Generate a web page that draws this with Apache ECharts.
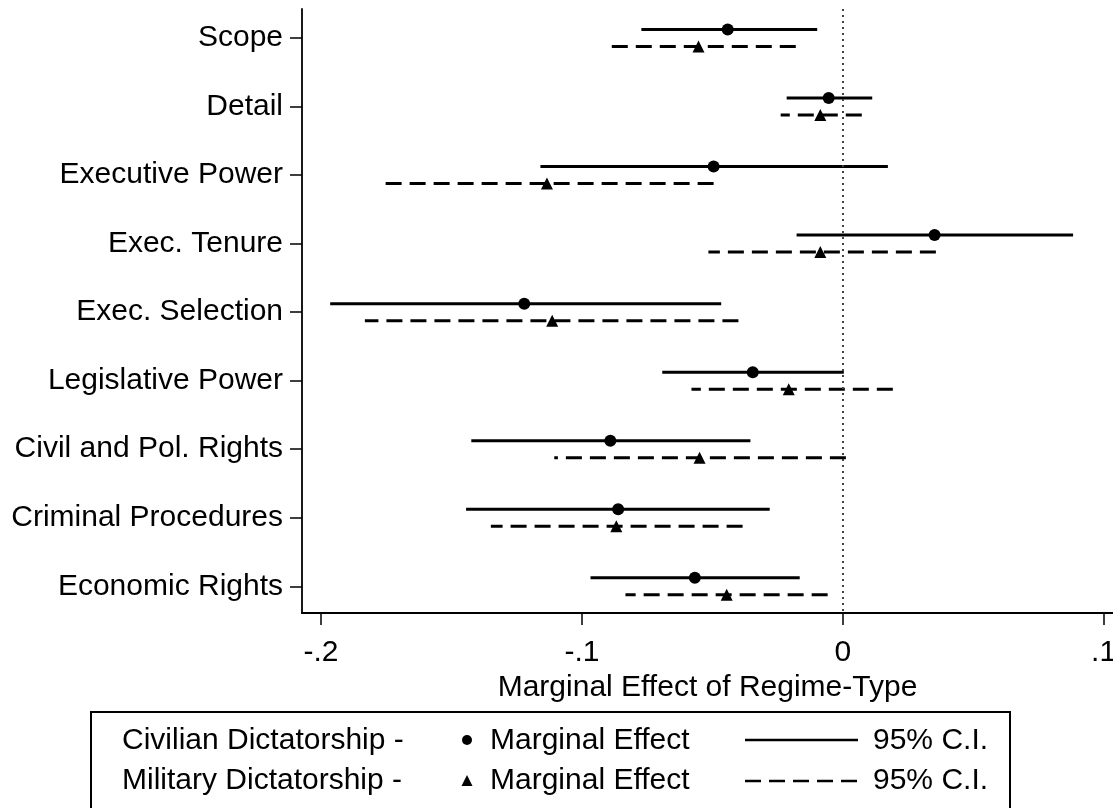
<!DOCTYPE html>
<html>
<head>
<meta charset="utf-8">
<script src="https://cdn.jsdelivr.net/npm/echarts@6/dist/echarts.min.js"></script>
<style>
  html, body { margin: 0; padding: 0; background: #fff; }
  #main { width: 1113px; height: 808px; }
</style>
</head>
<body>
<div id="main"></div>
<script>
// categories, top to bottom
const categories = ['Scope', 'Detail', 'Executive Power', 'Exec. Tenure', 'Exec. Selection',
  'Legislative Power', 'Civil and Pol. Rights', 'Criminal Procedures', 'Economic Rights'];

// civilian dictatorship: marginal effect and 95% C.I.
const civEst = [-0.0441, -0.0054, -0.0495, 0.0352, -0.1221, -0.0345, -0.0891, -0.0861, -0.0567];
const civLo  = [-0.0772, -0.0215, -0.1159, -0.0177, -0.1965, -0.0692, -0.1424, -0.1444, -0.0967];
const civHi  = [-0.0098, 0.0113, 0.0173, 0.0883, -0.0466, 0.0004, -0.0354, -0.0280, -0.0165];

// military dictatorship
const milEst = [-0.0553, -0.0086, -0.1134, -0.0086, -0.1114, -0.0207, -0.0549, -0.0868, -0.0445];
const milLo  = [-0.0915, -0.0238, -0.1770, -0.0515, -0.1832, -0.0580, -0.1106, -0.1349, -0.0833];
const milHi  = [-0.0180, 0.0073, -0.0495, 0.0357, -0.0400, 0.0192, 0.0012, -0.0384, -0.0058];

const xTickVals = [-0.2, -0.1, 0, 0.1];
const xTickLabels = ['-.2', '-.1', '0', '.1'];

const FONT = '"Liberation Sans", Arial, sans-serif';
const OFF = 0.124; // half gap between the two rows of a category

let myChart = echarts.init(document.getElementById('main'));

function ciData(lo, hi, off) {
  return lo.map((v, i) => [v, hi[i], i + off]);
}
function ptData(est, off) {
  return est.map((v, i) => [v, i + off]);
}
function ciRender(dashed) {
  return function (params, api) {
    // draw from right to left so the dash pattern is cut at the left end
    let a = api.coord([api.value(1), api.value(2)]);
    let b = api.coord([api.value(0), api.value(2)]);
    return {
      type: 'line',
      shape: { x1: a[0], y1: a[1], x2: b[0], y2: b[1] },
      style: { stroke: '#000', lineWidth: 3, lineDash: dashed ? [16, 8] : null }
    };
  };
}

let option = {
  animation: false,
  backgroundColor: '#fff',
  grid: { left: 302, right: 0, top: 9, bottom: 195, outerBoundsMode: 'none', containLabel: false },
  xAxis: {
    type: 'value',
    min: -0.2073,
    max: 0.1036,
    splitLine: { show: false },
    axisLine: { onZero: false, lineStyle: { color: '#000', width: 1.8 } },
    axisTick: { show: true, length: 12, customValues: xTickVals, lineStyle: { color: '#000', width: 1.5 } },
    axisLabel: {
      customValues: xTickVals,
      margin: 25,
      color: '#000',
      fontFamily: FONT,
      fontSize: 30,
      formatter: function (v) {
        let i = xTickVals.findIndex(t => Math.abs(t - v) < 1e-9);
        return i >= 0 ? xTickLabels[i] : '';
      }
    },
    name: 'Marginal Effect of Regime-Type',
    nameLocation: 'middle',
    nameGap: 49,
    nameTextStyle: { color: '#000', fontFamily: FONT, fontSize: 30 }
  },
  yAxis: {
    type: 'value',
    inverse: true,
    min: -0.423,
    max: 8.39,
    splitLine: { show: false },
    axisLine: { show: true, onZero: false, lineStyle: { color: '#000', width: 1.8 } },
    axisTick: { show: true, length: 12, customValues: categories.map((c, i) => i), lineStyle: { color: '#000', width: 1.5 } },
    axisLabel: {
      customValues: categories.map((c, i) => i),
      margin: 19,
      color: '#000',
      fontFamily: FONT,
      fontSize: 30,
      formatter: function (v) { return categories[Math.round(v)]; }
    }
  },
  series: [
    {
      type: 'custom',
      name: 'civ CI',
      renderItem: ciRender(false),
      data: ciData(civLo, civHi, -OFF),
      encode: { x: [0, 1], y: 2 },
      silent: true,
      markLine: {
        silent: true,
        symbol: 'none',
        label: { show: false },
        lineStyle: { color: '#444', width: 2, type: [2, 4] },
        data: [{ xAxis: 0 }]
      }
    },
    {
      type: 'custom',
      name: 'mil CI',
      renderItem: ciRender(true),
      data: ciData(milLo, milHi, OFF),
      encode: { x: [0, 1], y: 2 },
      silent: true
    },
    {
      type: 'scatter',
      name: 'civ est',
      symbol: 'circle',
      symbolSize: 12,
      itemStyle: { color: '#000', opacity: 1 },
      data: ptData(civEst, -OFF),
      silent: true
    },
    {
      type: 'scatter',
      name: 'mil est',
      symbol: 'triangle',
      symbolSize: 12,
      itemStyle: { color: '#000', opacity: 1 },
      data: ptData(milEst, OFF),
      silent: true
    }
  ],
  graphic: [
    {
      type: 'rect',
      shape: { x: 91, y: 712, width: 919, height: 120 },
      style: { fill: '#fff', stroke: '#000', lineWidth: 2 }
    },
    { type: 'text', x: 122, y: 741, style: { text: 'Civilian Dictatorship -', font: '30px ' + FONT, fill: '#000', verticalAlign: 'middle' } },
    { type: 'text', x: 122, y: 781, style: { text: 'Military Dictatorship -', font: '30px ' + FONT, fill: '#000', verticalAlign: 'middle' } },
    { type: 'circle', shape: { cx: 467, cy: 740, r: 5 }, style: { fill: '#000' } },
    { type: 'polygon', shape: { points: [[467, 775], [461.5, 786], [472.5, 786]] }, style: { fill: '#000' } },
    { type: 'text', x: 490, y: 741, style: { text: 'Marginal Effect', font: '30px ' + FONT, fill: '#000', verticalAlign: 'middle' } },
    { type: 'text', x: 490, y: 781, style: { text: 'Marginal Effect', font: '30px ' + FONT, fill: '#000', verticalAlign: 'middle' } },
    { type: 'line', shape: { x1: 745, y1: 740, x2: 858, y2: 740 }, style: { stroke: '#000', lineWidth: 2.5 } },
    { type: 'line', shape: { x1: 745, y1: 781, x2: 858, y2: 781 }, style: { stroke: '#000', lineWidth: 2.5, lineDash: [16, 8] } },
    { type: 'text', x: 873, y: 741, style: { text: '95% C.I.', font: '30px ' + FONT, fill: '#000', verticalAlign: 'middle' } },
    { type: 'text', x: 873, y: 781, style: { text: '95% C.I.', font: '30px ' + FONT, fill: '#000', verticalAlign: 'middle' } }
  ]
};
myChart.setOption(option);
</script>
</body>
</html>
